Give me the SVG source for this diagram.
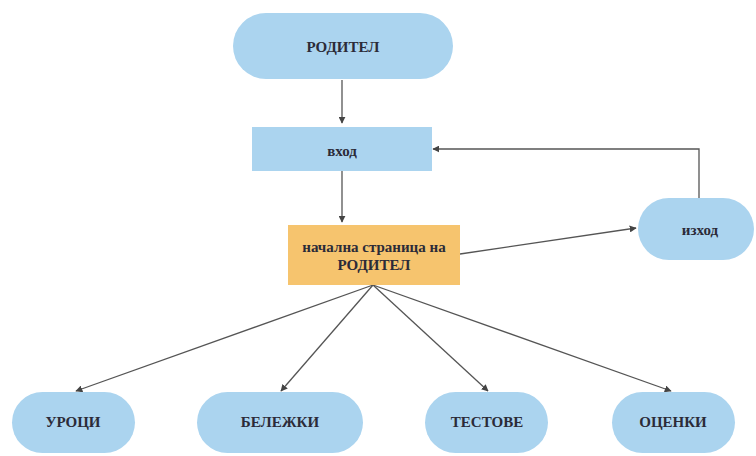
<svg xmlns="http://www.w3.org/2000/svg" width="756" height="456" viewBox="0 0 756 456">
  <style>
    .pill { fill: #abd4ef; }
    .box { fill: #abd4ef; }
    .home { fill: #f6c46e; }
    .lbl { font-family: "Liberation Serif", "DejaVu Serif", "Times New Roman", serif; font-weight: bold; font-size: 15px; fill: #2b2b38; text-anchor: middle; dominant-baseline: central; }
    .edge { fill: none; stroke: #555; stroke-width: 1.3; marker-end: url(#arrow); }
  </style>
  <defs>
    <marker id="arrow" viewBox="0 0 10 10" refX="9" refY="5" markerWidth="7" markerHeight="7" markerUnits="userSpaceOnUse" orient="auto">
      <path d="M0,0 L10,5 L0,10 z" fill="#444"/>
    </marker>
  </defs>
  <rect width="756" height="456" fill="#ffffff"/>

  <g id="connectors">
    <line class="edge" x1="342" y1="80" x2="342" y2="123"/>
    <line class="edge" x1="342" y1="171" x2="342" y2="222"/>
    <line class="edge" x1="460" y1="254" x2="636" y2="228"/>
    <polyline class="edge" points="699,198 699,149 433,149"/>
    <line class="edge" x1="373" y1="285" x2="76" y2="391"/>
    <line class="edge" x1="373" y1="285" x2="281" y2="391"/>
    <line class="edge" x1="373" y1="285" x2="488" y2="391"/>
    <line class="edge" x1="373" y1="285" x2="671" y2="391"/>
  </g>

  <g id="roditel">
    <rect class="pill" x="233" y="13" width="220" height="66" rx="33"/>
    <text class="lbl" x="343" y="47">РОДИТЕЛ</text>
  </g>

  <g id="vhod">
    <rect class="box" x="252" y="127" width="180" height="44"/>
    <text class="lbl" x="342" y="151" font-size="14">вход</text>
  </g>

  <g id="nachalna">
    <rect class="home" x="288" y="225" width="172" height="60"/>
    <text class="lbl" x="374" y="247">начална страница на</text>
    <text class="lbl" x="374" y="265">РОДИТЕЛ</text>
  </g>

  <g id="izhod">
    <rect class="pill" x="638" y="198" width="116" height="62" rx="31"/>
    <text class="lbl" x="700" y="230" font-size="15">изход</text>
  </g>

  <g id="uroci">
    <rect class="pill" x="12" y="392" width="123" height="61" rx="30.5"/>
    <text class="lbl" x="73" y="422">УРОЦИ</text>
  </g>

  <g id="belezhki">
    <rect class="pill" x="197" y="392" width="166" height="61" rx="30.5"/>
    <text class="lbl" x="280" y="422">БЕЛЕЖКИ</text>
  </g>

  <g id="testove">
    <rect class="pill" x="425" y="392" width="123" height="61" rx="30.5"/>
    <text class="lbl" x="487" y="422">ТЕСТОВЕ</text>
  </g>

  <g id="ocenki">
    <rect class="pill" x="612" y="392" width="123" height="61" rx="30.5"/>
    <text class="lbl" x="673" y="422">ОЦЕНКИ</text>
  </g>
</svg>
